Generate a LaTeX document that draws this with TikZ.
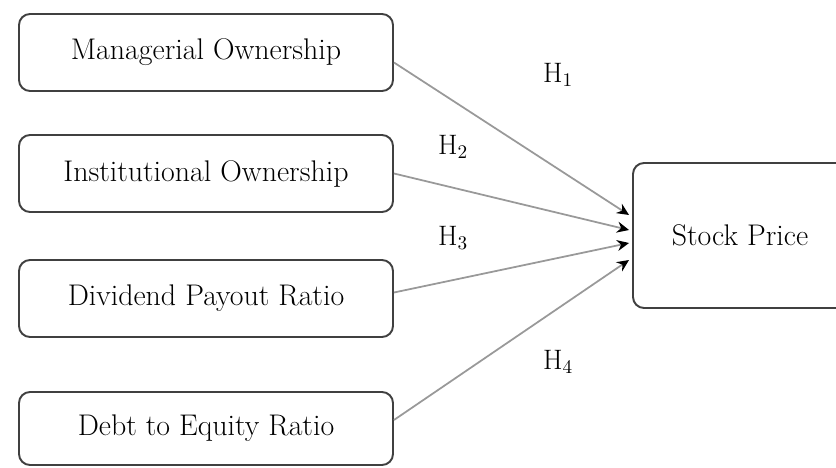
\documentclass[tikz,border=0pt]{standalone}
\usepackage{tikz}
\usetikzlibrary{calc,positioning,arrows.meta}

\tikzset{
    varbox/.style = {draw=black!75, line width=1.1pt, rounded corners=0.22cm, minimum width=7.48cm, minimum height=1.54cm, fill=white},
    hyp/.style = {font=\fontsize{16}{19}\selectfont},
    link/.style = {draw=black!40, line width=1pt, -{Stealth[black, length=0.24cm, width=0.22cm]}}
}

\begin{document}
\begin{tikzpicture}[font=\fontsize{17}{20}\selectfont]
        \useasboundingbox (0,0) rectangle (16.72,-9.36);
        \begin{scope}
            \clip (0,0) rectangle (16.72,-9.36);
            \node[varbox, minimum width=4.8cm, minimum height=2.9cm] (sp) at (15.06,-4.71) {};
        \end{scope}
        \node at (14.8,-4.71) (sptext) {Stock Price};
        \node[varbox] (mo) at (4.12,-1.05) {Managerial Ownership};
        \node[varbox] (io) at (4.12,-3.47) {Institutional Ownership};
        \node[varbox] (dp) at (4.12,-5.97) {Dividend Payout Ratio};
        \node[varbox, minimum height=1.46cm] (de) at (4.12,-8.57) {Debt to Equity Ratio};
        % hypotheses
        \foreach \src/\sy/\dy in {mo/-0.2/0.41, io/0/0.11, dp/0.12/-0.15, de/0.17/-0.49}
            \draw[link] ([yshift=\sy cm]\src.east) -- ([xshift=-0.06cm, yshift=\dy cm]sp.west);
        \node[hyp] (h1) at (11.16,-1.5) {H$_1$};
        \node[hyp] (h2) at (9.06,-2.94) {H$_2$};
        \node[hyp] (h3) at (9.06,-4.76) {H$_3$};
        \node[hyp] (h4) at (11.16,-7.24) {H$_4$};
    \end{tikzpicture}
\end{document}
